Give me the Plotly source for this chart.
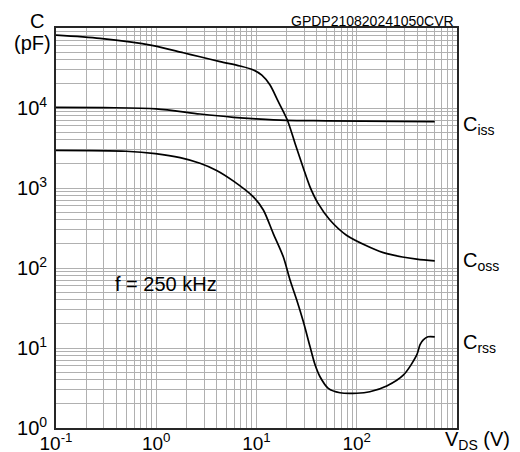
import plotly.graph_objects as go

# ---- data ----
vds_ciss = [0.1, 0.3, 1.0, 2.73, 5.9, 10.0, 20.0, 50.0, 600.0]
c_iss = [10200, 10100, 9770, 8410, 7650, 7300, 7000, 6920, 6760]

vds_coss = [0.1, 0.275, 0.93, 1.86, 2.73, 4.33, 6.84, 9.3, 11.3, 13.6, 16.5, 20.3,
            24.2, 29.3, 34.0, 41.0, 54.0, 79.0, 135.0, 200.0, 396.0, 600.0]
c_oss = [81300, 74100, 60300, 49000, 43700, 38000, 33500, 29900, 25700, 19500, 12000, 7080,
         3630, 1780, 1050, 646, 398, 257, 182, 151, 129, 123]

vds_crss = [0.1, 0.5, 0.98, 1.73, 2.73, 4.0, 5.9, 9.3, 11.7, 14.7, 18.5, 21.6, 25.2,
            29.3, 34.2, 38.4, 43.0, 52.0, 68.0, 100.0, 135.0, 199.0, 291.0, 396.0, 428.0,
            461.0, 513.0, 600.0]
c_rss = [2950, 2880, 2690, 2400, 2040, 1660, 1220, 776, 531, 269, 138, 70.8, 39.8,
         21.4, 10.4, 6.17, 4.37, 3.13, 2.76, 2.72, 2.84, 3.35, 4.57, 8.13, 11.0,
         12.6, 13.8, 13.8]

x_decades = [0.1, 1, 10, 100]
x_ticklabels = ["10<sup>-1</sup>", "10<sup>0</sup>", "10<sup>1</sup>", "10<sup>2</sup>"]
y_decades = [1, 10, 100, 1000, 10000]
y_ticklabels = ["10<sup>0</sup>", "10<sup>1</sup>", "10<sup>2</sup>", "10<sup>3</sup>", "10<sup>4</sup>"]

FONT = "Liberation Sans, Arial, sans-serif"


def grid_vals(decades, labels, last):
    vals, text = [], []
    for d, lab in zip(decades, labels):
        for m in range(1, 10):
            vals.append(d * m)
            text.append(lab if m == 1 else "")
    vals.append(last)
    text.append("")
    return vals, text


xv, xt = grid_vals(x_decades, x_ticklabels, 1000)
yv, yt = grid_vals(y_decades, y_ticklabels, 100000)

fig = go.Figure()
line = dict(color="black", width=1.7, shape="spline", smoothing=0.8)
fig.add_trace(go.Scatter(x=vds_ciss, y=c_iss, mode="lines", line=line, name="Ciss"))
fig.add_trace(go.Scatter(x=vds_coss, y=c_oss, mode="lines", line=line, name="Coss"))
fig.add_trace(go.Scatter(x=vds_crss, y=c_rss, mode="lines", line=line, name="Crss"))

axis_common = dict(
    type="log", showgrid=True, gridcolor="#b0b0b0", gridwidth=1,
    showline=True, linecolor="#262626", linewidth=1.8, mirror=True,
    ticks="", ticklen=0, zeroline=False, automargin=False,
)
fig.update_xaxes(range=[-1, 3], tickmode="array", tickvals=xv, ticktext=xt,
                 ticklabelstandoff=-3, tickfont=dict(family=FONT, size=19, color="black"),
                 **axis_common)
fig.update_yaxes(range=[0, 5], tickmode="array", tickvals=yv, ticktext=yt,
                 ticklabelstandoff=3, tickfont=dict(family=FONT, size=20, color="black"),
                 **axis_common)

def px(xp, yp):
    return (xp - 56) / 401.0, (428 - yp) / 400.0

annos = []
def add(text, xp, yp, size=20, xanchor="center", yanchor="middle"):
    x, y = px(xp, yp)
    annos.append(dict(text=text, x=x, y=y, xref="paper", yref="paper", showarrow=False,
                      xanchor=xanchor, yanchor=yanchor,
                      font=dict(family=FONT, size=size, color="black")))

add("C", 37, 21.5)
add("(pF)", 32, 43)
add("GPDP210820241050CVR", 456, 21, size=14, xanchor="right")
add("V<sub>DS</sub> (V)", 477, 440)
add("C<sub>iss</sub>", 461, 125, xanchor="left")
add("C<sub>oss</sub>", 461, 261, xanchor="left")
add("C<sub>rss</sub>", 461, 343, xanchor="left")
add("f = 250 kHz", 166, 284)

x0, y1 = px(105, 268.3)
x1, y0 = px(226.7, 300)
fig.add_shape(type="rect", xref="paper", yref="paper", x0=x0, x1=x1, y0=y0, y1=y1,
              fillcolor="white", line=dict(width=0), layer="between")

fig.update_layout(
    template="none",
    width=520, height=452,
    margin=dict(l=56, r=63, t=28, b=24, autoexpand=False),
    paper_bgcolor="white", plot_bgcolor="white",
    showlegend=False, annotations=annos,
    font=dict(family=FONT, size=20, color="black"),
)

fig.write_html("out.html", config={"displayModeBar": False},
               post_script="document.body.style.margin='0px';document.body.style.overflow='hidden';")
